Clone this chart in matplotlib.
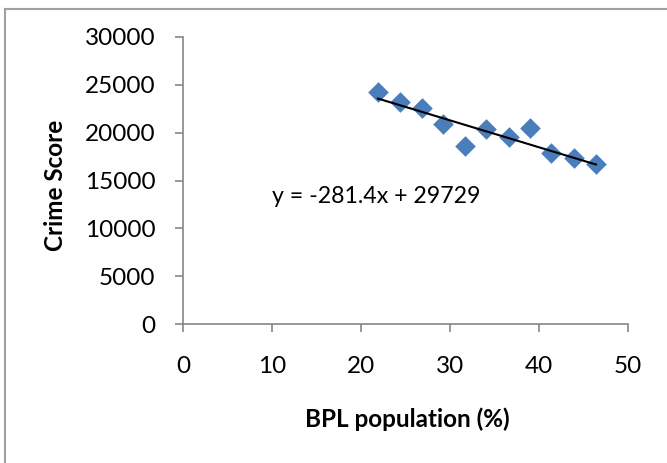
import numpy as np
import matplotlib.pyplot as plt
from matplotlib.lines import Line2D

# BPL population (%) vs crime score
bpl = [21.9, 24.4, 26.8, 29.2, 31.7, 34.1, 36.6, 39.0, 41.4, 43.9, 46.4]
crime = [24280, 23240, 22550, 20900, 18600, 20350, 19580, 20460, 17900, 17320, 16690]
slope, intercept = -281.4, 29729
x_ticks = [0, 10, 20, 30, 40, 50]
y_ticks = [0, 5000, 10000, 15000, 20000, 25000, 30000]

plt.rcParams['font.family'] = ['Lato', 'DejaVu Sans']

fig = plt.figure(figsize=(6.67, 4.63), dpi=100)
ax = fig.add_axes([0.2744, 0.3002, 0.6671, 0.6199])

gray = '#868686'
ax.scatter(bpl, crime, marker='D', s=10.5**2, color='#4A7EBB', zorder=3, linewidths=0)
xs = np.array([bpl[0], bpl[-1]])
ax.plot(xs, slope * xs + intercept, color='black', lw=1.5, zorder=4)

ax.text(10.0, 13350, f"y = {slope}x + {intercept}", fontsize=16.7, ha='left', va='center')

ax.set_xlim(0, 50)
ax.set_ylim(0, 30000)
ax.set_xticks(x_ticks)
ax.set_yticks(y_ticks)
for s in ['top', 'right']:
    ax.spines[s].set_visible(False)
for s in ['left', 'bottom']:
    ax.spines[s].set_color(gray)
    ax.spines[s].set_linewidth(1.2)
ax.tick_params(axis='both', colors=gray, labelcolor='black', labelsize=17.5,
               length=6, width=1.2, direction='out')
ax.tick_params(axis='y', pad=14)
ax.tick_params(axis='x', pad=17)

ax.set_xlabel('BPL population (%)', fontsize=17.5, fontweight='bold')
ax.set_ylabel('Crime Score', fontsize=17.5, fontweight='bold')
ax.xaxis.set_label_coords((407 - 183) / 445, (324 - 419) / 287)
ax.yaxis.set_label_coords((55 - 183) / 445, (324 - 185) / 287)
ax.xaxis.label.set_verticalalignment('center')
ax.yaxis.label.set_verticalalignment('center')

# chart border (only top and left visible in the reference)
fig.add_artist(Line2D([4.5/667, 4.5/667], [0, 1 - 9/463], color='#A0A0A0', lw=1.5))
fig.add_artist(Line2D([4.5/667, 1], [1 - 9/463, 1 - 9/463], color='#A0A0A0', lw=1.5))

fig.savefig('out.png', dpi=100)
